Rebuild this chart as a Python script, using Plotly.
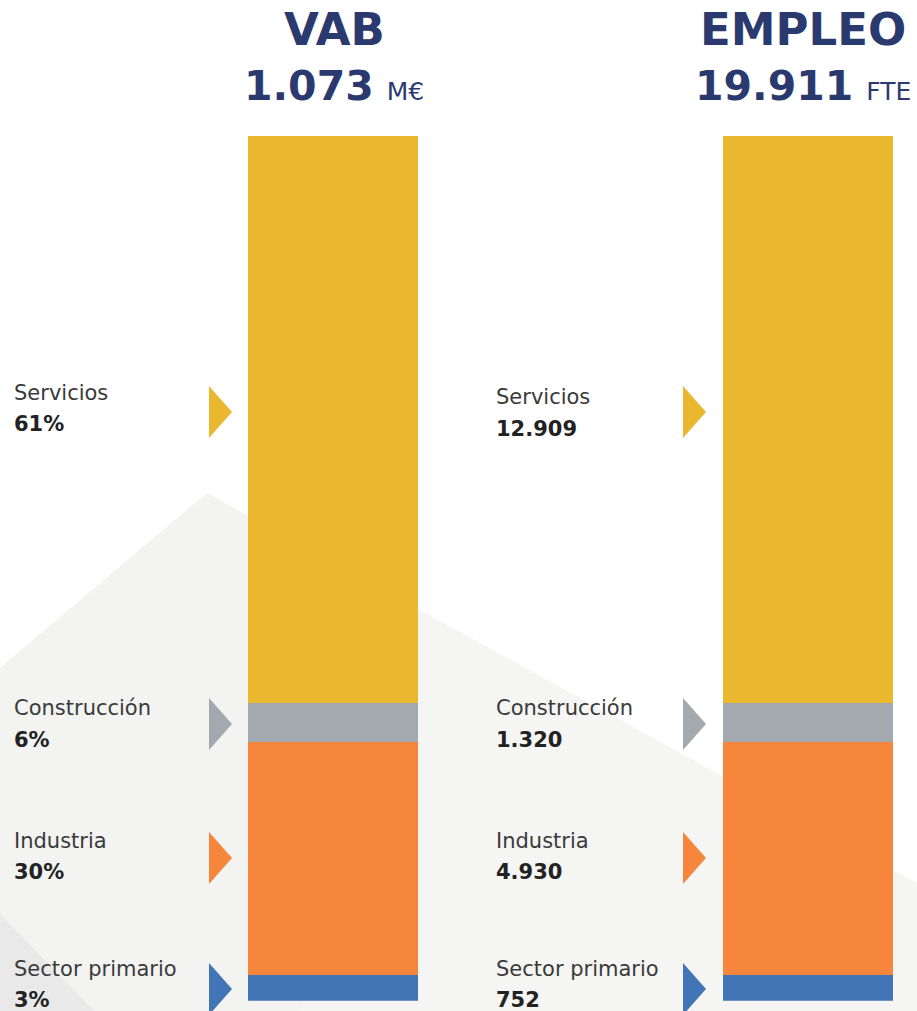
import plotly.graph_objects as go

# ---------------- data ----------------
sectors = ["Servicios", "Construcción", "Industria", "Sector primario"]
vab_labels = ["61%", "6%", "30%", "3%"]
empleo_labels = ["12.909", "1.320", "4.930", "752"]
# segment shares as drawn in the picture (both bars are drawn identically)
drawn_share_vab = [65.6, 4.5, 26.9, 3.0]
drawn_share_empleo = [65.6, 4.5, 26.9, 3.0]
colors = ["#EAB82E", "#A2A9AF", "#F5863B", "#4275B6"]

panel_titles = ["VAB", "EMPLEO"]
panel_totals = ["1.073", "19.911"]
panel_units = ["M€", "FTE"]

# ---------------- layout constants ----------------
W, H = 917, 1011
bar_centers = [333, 808]
title_centers = [334, 803]
bar_width = 170
bar_top_px, bar_bottom_px = 136, 1000.7
label_x = [12, 494]
arrow_x = [209, 683]
arrow_centers_px = [412, 724, 858, 989]
NAVY = "#2B3A6E"


def py(p):
    return 1 - p / H


fig = go.Figure()

# stacked bars (bottom segment first)
for i in reversed(range(len(sectors))):
    fig.add_trace(go.Bar(
        x=bar_centers,
        y=[drawn_share_vab[i], drawn_share_empleo[i]],
        width=bar_width,
        marker=dict(color=colors[i], line=dict(width=0)),
        name=sectors[i],
        showlegend=False,
        hoverinfo="skip",
    ))

shapes = []
# faint background shapes
shapes.append(dict(type="path", xref="x", yref="paper", layer="below",
                   path=f"M 0,{py(668)} L 207,{py(493)} L 917,{py(883)} L 917,{py(1011)} L 0,{py(1011)} Z",
                   fillcolor="#F5F5F4", line=dict(width=0)))
shapes.append(dict(type="path", xref="x", yref="paper", layer="below",
                   path=f"M 207,{py(493)} L 420,{py(615)} L 300,{py(1011)} L 0,{py(1011)} L 0,{py(668)} Z",
                   fillcolor="#F3F3F2", line=dict(width=0)))
shapes.append(dict(type="path", xref="x", yref="paper", layer="below",
                   path=f"M 0,{py(914)} L 94,{py(1011)} L 0,{py(1011)} Z",
                   fillcolor="#E9E9E9", line=dict(width=0)))

# arrows
for ax in arrow_x:
    for j, cy in enumerate(arrow_centers_px):
        shapes.append(dict(type="path", xref="x", yref="paper",
                           path=f"M {ax},{py(cy-26)} L {ax+23},{py(cy)} L {ax},{py(cy+26)} Z",
                           fillcolor=colors[j], line=dict(width=0)))

annotations = []
# titles
for k in range(2):
    annotations.append(dict(x=title_centers[k], y=py(29), xref="x", yref="paper",
                            text=f"<b>{panel_titles[k]}</b>", showarrow=False,
                            xanchor="center", yanchor="middle",
                            font=dict(family="DejaVu Sans", size=45, color=NAVY)))
    annotations.append(dict(x=title_centers[k], y=py(86), xref="x", yref="paper",
                            text=f"<b>{panel_totals[k]}</b> <span style='font-size:25px'>{panel_units[k]}</span>",
                            showarrow=False, xanchor="center", yanchor="middle",
                            font=dict(family="DejaVu Sans", size=41, color=NAVY)))

label_offsets = [[(-19, 12), (-16, 16), (-17, 14), (-20, 11)],
                 [(-15, 17), (-16, 16), (-17, 14), (-20, 11)]]
values = [vab_labels, empleo_labels]
for k in range(2):
    for j, name in enumerate(sectors):
        cy = arrow_centers_px[j]
        annotations.append(dict(x=label_x[k], y=py(cy + label_offsets[k][j][0]), xref="x", yref="paper",
                                text=name, showarrow=False, xanchor="left", yanchor="middle",
                                font=dict(family="DejaVu Sans ExtraLight, DejaVu Sans", size=21, color="#3a3a3a")))
        annotations.append(dict(x=label_x[k], y=py(cy + label_offsets[k][j][1]), xref="x", yref="paper",
                                text=f"<b>{values[k][j]}</b>", showarrow=False, xanchor="left", yanchor="middle",
                                font=dict(family="DejaVu Sans", size=21, color="#222222")))

fig.update_layout(
    width=W, height=H,
    margin=dict(l=0, r=0, t=0, b=0),
    paper_bgcolor="white",
    plot_bgcolor="rgba(0,0,0,0)",
    barmode="stack",
    bargap=0,
    showlegend=False,
    shapes=shapes,
    annotations=annotations,
    xaxis=dict(range=[0, W], domain=[0, 1], visible=False, fixedrange=True),
    yaxis=dict(range=[0, 100], domain=[1 - bar_bottom_px / H, 1 - bar_top_px / H],
               visible=False, fixedrange=True),
)

fig.write_html("out.html", config={"displayModeBar": False},
               post_script="document.body.style.margin='0';document.body.style.overflow='hidden';")
